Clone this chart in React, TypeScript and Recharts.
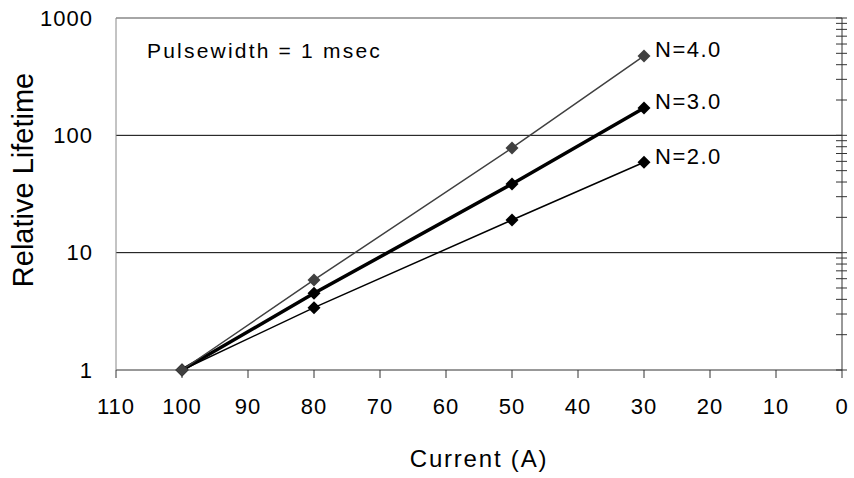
import React from 'react';
import { LineChart, Line, XAxis, YAxis, ReferenceLine } from 'recharts';

const current = [100, 80, 50, 30];
const lifeN4 = [1, 5.85, 78, 475];
const lifeN3 = [1, 4.5, 38.5, 171];
const lifeN2 = [1, 3.4, 19, 59];
const seriesNames = ['N=4.0', 'N=3.0', 'N=2.0'];

const xTicks = [0, 10, 20, 30, 40, 50, 60, 70, 80, 90, 100, 110];
const yTicks = [1, 10, 100, 1000];
const rightTicks = [
  1, 2, 3, 4, 5, 6, 7, 8, 9,
  10, 20, 30, 40, 50, 60, 70, 80, 90,
  100, 200, 300, 400, 500, 600, 700, 800, 900,
  1000,
];

const data = current.map((c, i) => ({ current: c, n4: lifeN4[i], n3: lifeN3[i], n2: lifeN2[i] }));

const FONT = '"Liberation Sans", Arial, sans-serif';

const diamond = (fill: string) => (p: any) => {
  const { cx, cy, index } = p;
  const r = 6.5;
  return (
    <polygon
      key={`d-${index}`}
      points={`${cx},${cy - r} ${cx + r},${cy} ${cx},${cy + r} ${cx - r},${cy}`}
      fill={fill}
    />
  );
};

const endLabel = (text: string) => (p: any) => {
  const { x, y, index } = p;
  if (index !== current.length - 1) return <g key={`l-${index}`} />;
  return (
    <text
      key={`l-${index}`}
      x={x + 11}
      y={y - 6}
      dominantBaseline="central"
      fontFamily={FONT}
      fontSize={22}
      letterSpacing={1.5}
      fill="#000"
    >
      {text}
    </text>
  );
};

const RightTick = (p: any) => {
  const { x, y, payload } = p;
  return <line key={`rt-${payload.value}`} x1={x - 6} x2={x + 5} y1={y} y2={y} stroke="#333" strokeWidth={1} />;
};

const YLabel = () => (
  <text
    x={23}
    y={180}
    transform="rotate(-90, 23, 180)"
    textAnchor="middle"
    dominantBaseline="central"
    fontFamily={FONT}
    fontSize={29}
    fill="#000"
  >
    Relative Lifetime
  </text>
);

const XLabel = () => (
  <text
    x={479}
    y={458}
    textAnchor="middle"
    dominantBaseline="central"
    fontFamily={FONT}
    fontSize={24}
    letterSpacing={1.8}
    fill="#000"
  >
    Current (A)
  </text>
);

export default function App() {
  return (
    <div style={{ position: 'absolute', left: 0, top: 0, width: 854, height: 478, background: '#fff' }}>
      <LineChart width={854} height={478} data={data} margin={{ top: 18, right: 0, left: 0, bottom: 0 }}>
        <XAxis
          dataKey="current"
          type="number"
          domain={[0, 110]}
          reversed
          ticks={xTicks}
          interval={0}
          height={108}
          stroke="#333"
          tickSize={8}
          tickMargin={20}
          tick={{ fill: '#000', fontSize: 22, fontFamily: FONT, letterSpacing: 1 }}
          label={<XLabel />}
        />
        <YAxis
          yAxisId="left"
          scale="log"
          domain={[1, 1000]}
          ticks={yTicks}
          interval={0}
          width={116}
          stroke="#888"
          tickLine={false}
          tickSize={0}
          tickMargin={23}
          tick={{ fill: '#000', fontSize: 22, fontFamily: FONT, letterSpacing: 1 }}
          label={<YLabel />}
        />
        <YAxis
          yAxisId="right"
          orientation="right"
          scale="log"
          domain={[1, 1000]}
          ticks={rightTicks}
          interval={0}
          width={12}
          stroke="#333"
          tickLine={false}
          tickSize={0}
          tickMargin={0}
          tick={<RightTick />}
        />
        <ReferenceLine yAxisId="left" y={10} stroke="#000" strokeWidth={1} />
        <ReferenceLine yAxisId="left" y={100} stroke="#000" strokeWidth={1} />
        <ReferenceLine yAxisId="left" y={1000} stroke="#888" strokeWidth={1.5} />
        <Line
          yAxisId="left"
          type="linear"
          dataKey="n2"
          stroke="#000"
          strokeWidth={1.5}
          dot={diamond('#000')}
          label={endLabel(seriesNames[2])}
          isAnimationActive={false}
        />
        <Line
          yAxisId="right"
          type="linear"
          dataKey="n3"
          stroke="#000"
          strokeWidth={3.5}
          dot={diamond('#000')}
          label={endLabel(seriesNames[1])}
          isAnimationActive={false}
        />
        <Line
          yAxisId="left"
          type="linear"
          dataKey="n4"
          stroke="#404040"
          strokeWidth={1.5}
          dot={diamond('#404040')}
          label={endLabel(seriesNames[0])}
          isAnimationActive={false}
        />
      </LineChart>
      <div
        style={{
          position: 'absolute',
          left: 147,
          top: 38,
          fontFamily: FONT,
          fontSize: 21,
          letterSpacing: 2.2,
          lineHeight: '26px',
          color: '#000',
          whiteSpace: 'nowrap',
        }}
      >
        Pulsewidth = 1 msec
      </div>
    </div>
  );
}
